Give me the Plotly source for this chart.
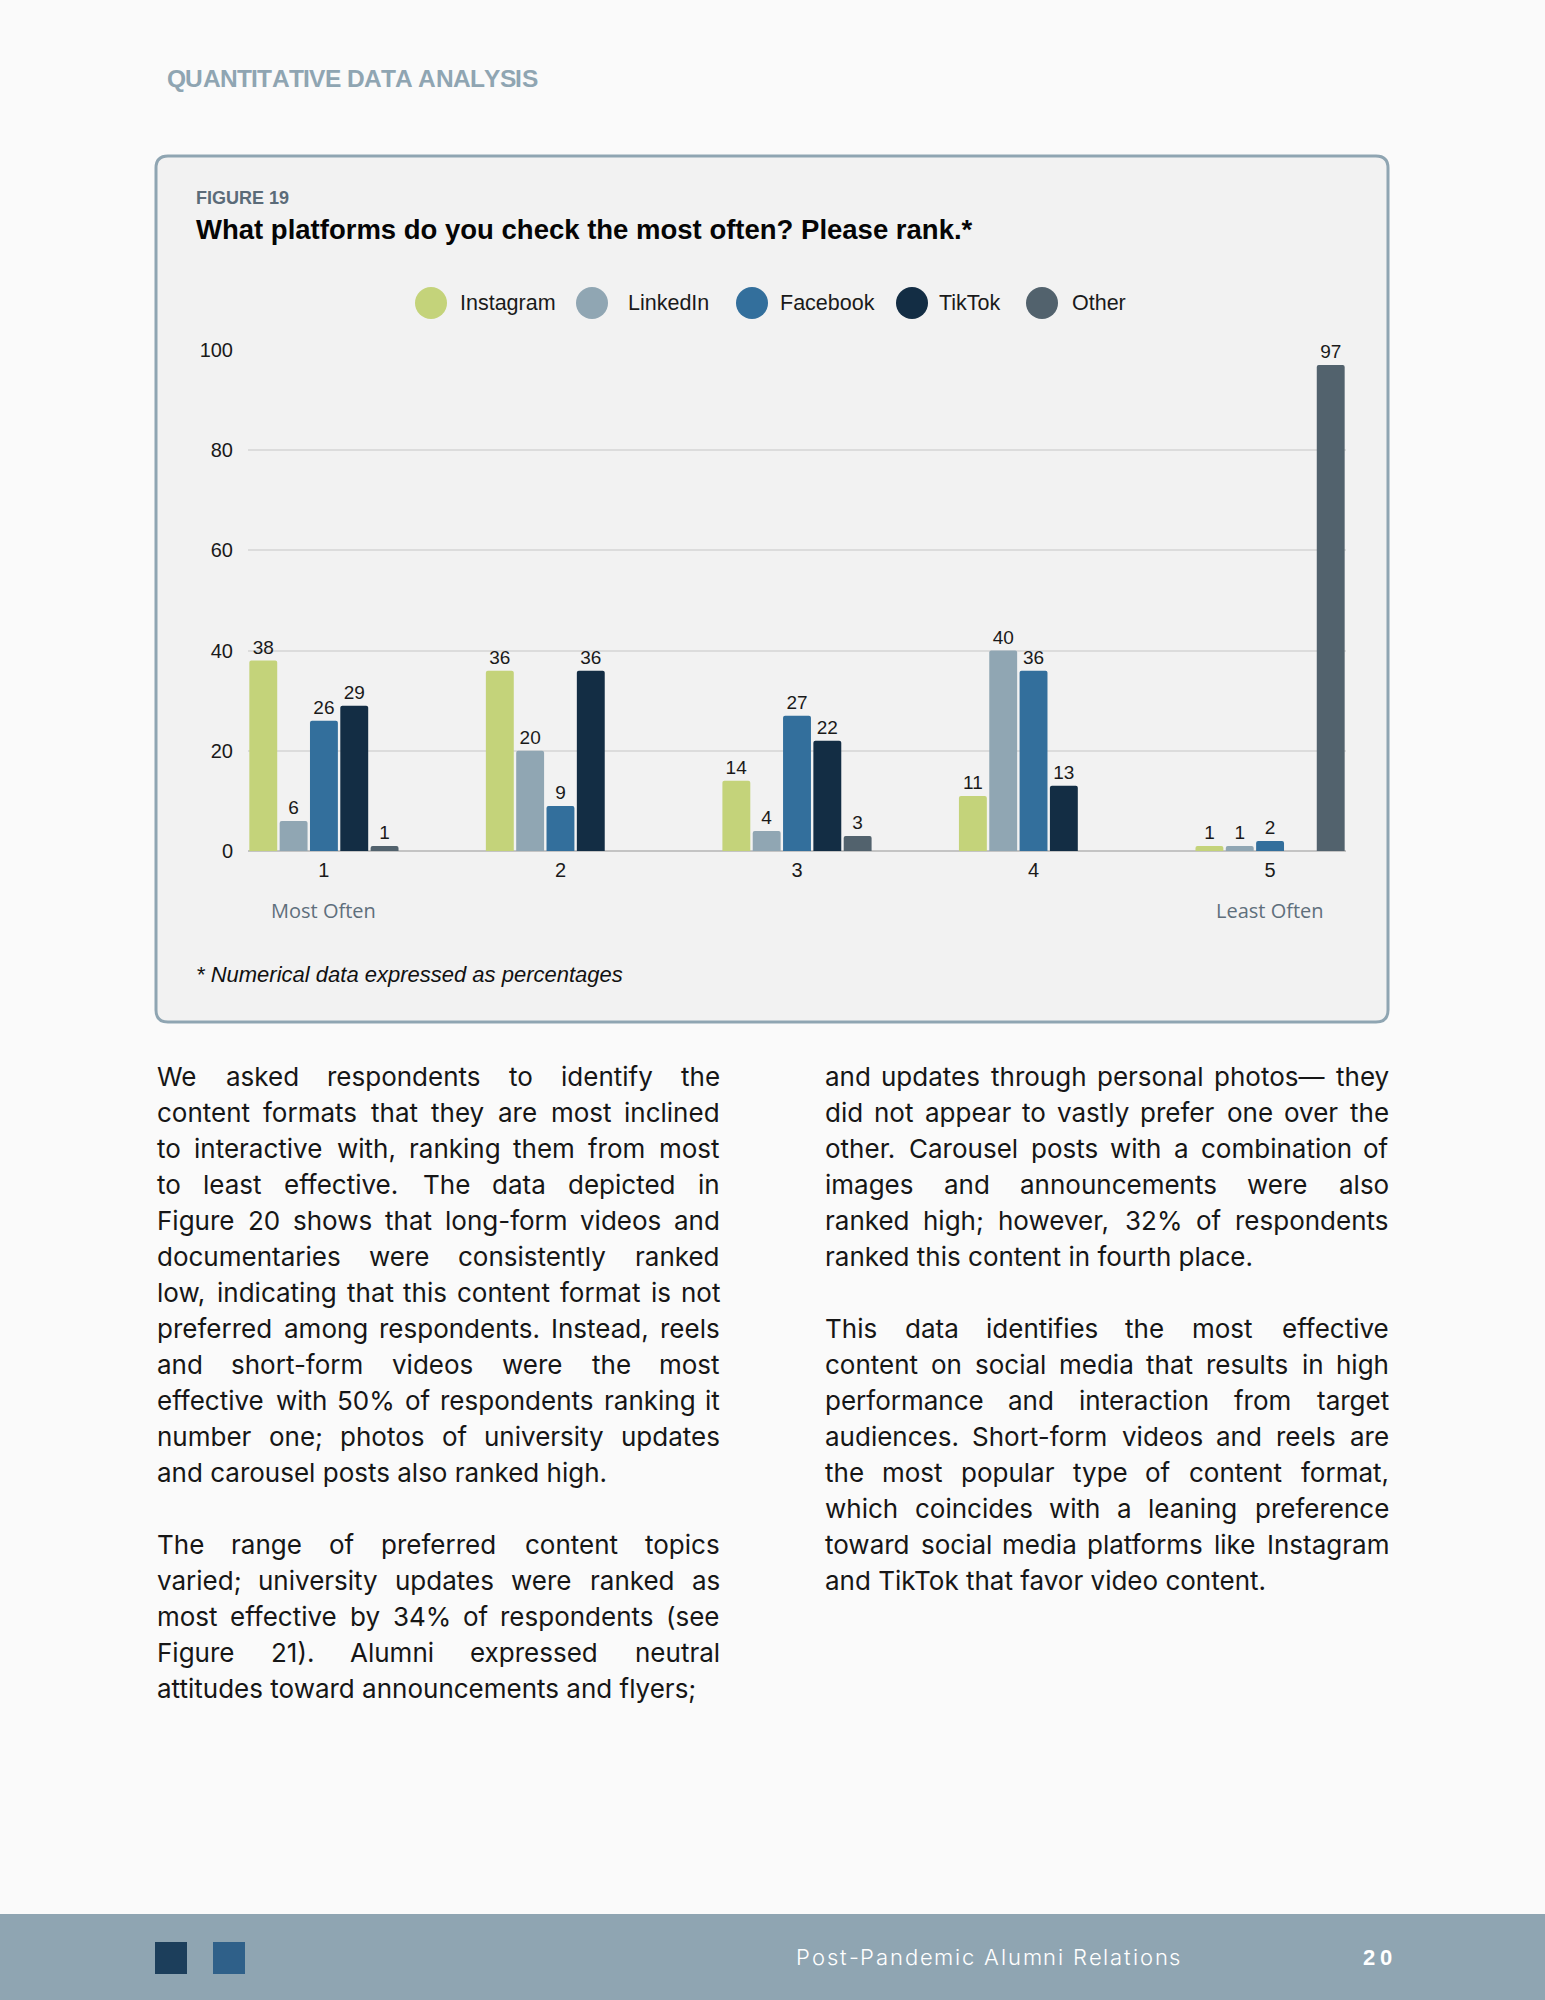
import glob
import os
import re
import struct

import plotly.graph_objects as go

# ---------------------------------------------------------------- data
RANKS = [1, 2, 3, 4, 5]
RANK_LABELS = ["1", "2", "3", "4", "5"]
SERIES = ["Instagram", "LinkedIn", "Facebook", "TikTok", "Other"]
INSTAGRAM = [38, 36, 14, 11, 1]
LINKEDIN = [6, 20, 4, 40, 1]
FACEBOOK = [26, 9, 27, 36, 2]
TIKTOK = [29, 36, 22, 13, None]
OTHER = [1, None, 3, None, 97]
VALUES = [INSTAGRAM, LINKEDIN, FACEBOOK, TIKTOK, OTHER]
Y_TICKS = [0, 20, 40, 60, 80, 100]

HEADER = "QUANTITATIVE DATA ANALYSIS"
FIG_LABEL = "FIGURE 19"
TITLE = "What platforms do you check the most often? Please rank.*"
LOW_LABEL = "Most Often"
HIGH_LABEL = "Least Often"
FOOTNOTE = "* Numerical data expressed as percentages"
FOOTER_TEXT = "Post-Pandemic Alumni Relations"
PAGE_NO = "20"

LEFT_PARAS = [
    [
        "We asked respondents to identify the",
        "content formats that they are most inclined",
        "to interactive with, ranking them from most",
        "to least effective. The data depicted in",
        "Figure 20 shows that long-form videos and",
        "documentaries were consistently ranked",
        "low, indicating that this content format is not",
        "preferred among respondents. Instead, reels",
        "and short-form videos were the most",
        "effective with 50% of respondents ranking it",
        "number one; photos of university updates",
        "and carousel posts also ranked high.",
    ],
    [
        "The range of preferred content topics",
        "varied; university updates were ranked as",
        "most effective by 34% of respondents (see",
        "Figure 21). Alumni expressed neutral",
        "attitudes toward announcements and flyers;",
    ],
]
RIGHT_PARAS = [
    [
        "and updates through personal photos\u2014 they",
        "did not appear to vastly prefer one over the",
        "other. Carousel posts with a combination of",
        "images and announcements were also",
        "ranked high; however, 32% of respondents",
        "ranked this content in fourth place.",
    ],
    [
        "This data identifies the most effective",
        "content on social media that results in high",
        "performance and interaction from target",
        "audiences. Short-form videos and reels are",
        "the most popular type of content format,",
        "which coincides with a leaning preference",
        "toward social media platforms like Instagram",
        "and TikTok that favor video content.",
    ],
]

# ---------------------------------------------------------------- styles
COLORS = ["#c4d37a", "#90a6b3", "#336f9c", "#132d44", "#52626d"]
PAGE_BG = "#fafafa"
BOX_BG = "#f2f2f2"
STEEL = "#8fa5b2"
INK = "#161616"
ARIAL = "Liberation Sans, Arial, Helvetica, sans-serif"

# ---------------------------------------------------------------- font metrics
FONT_DIRS = ["/usr/share/fonts", "/usr/local/share/fonts",
             os.path.expanduser("~/.fonts"), os.path.expanduser("~/.local/share/fonts")]
ALL_FONTS = []
for _d in FONT_DIRS:
    for _ext in ("ttf", "otf", "TTF", "OTF"):
        ALL_FONTS += glob.glob(os.path.join(_d, "**", "*." + _ext), recursive=True)


def find_font(regex, exclude=r"italic|oblique"):
    c = [p for p in ALL_FONTS
         if re.search(regex, os.path.basename(p), re.I)
         and not re.search(exclude, os.path.basename(p), re.I)]
    c.sort(key=lambda p: len(os.path.basename(p)))
    return c[0] if c else None


class ApproxMetrics:
    def width(self, text, size):
        w = 0.0
        for ch in text:
            if ch == " ":
                w += 0.28
            elif ch in "il.,;:!|'":
                w += 0.25
            elif ch in "ftrj()-":
                w += 0.35
            elif ch in "mwMW\u2014%":
                w += 0.85
            elif ch.isupper():
                w += 0.68
            elif ch.isdigit():
                w += 0.56
            else:
                w += 0.55
        return w * size


class FontMetrics:
    def __init__(self, path):
        d = open(path, "rb").read()
        self.d = d
        num = struct.unpack(">H", d[4:6])[0]
        t = {}
        for i in range(num):
            r = 12 + 16 * i
            tag = d[r:r + 4].decode("latin1")
            t[tag] = struct.unpack(">I", d[r + 8:r + 12])[0]
        self.upem = struct.unpack(">H", d[t["head"] + 18:t["head"] + 20])[0]
        nhm = struct.unpack(">H", d[t["hhea"] + 34:t["hhea"] + 36])[0]
        hm = t["hmtx"]
        self.adv = [struct.unpack(">H", d[hm + 4 * i:hm + 4 * i + 2])[0] for i in range(nhm)]
        cm = t["cmap"]
        n = struct.unpack(">H", d[cm + 2:cm + 4])[0]
        self.s4 = None
        self.s12 = None
        for i in range(n):
            pid, eid, so = struct.unpack(">HHI", d[cm + 4 + 8 * i:cm + 12 + 8 * i])
            fmt = struct.unpack(">H", d[cm + so:cm + so + 2])[0]
            if fmt == 4 and self.s4 is None:
                self.s4 = cm + so
            if fmt == 12 and self.s12 is None:
                self.s12 = cm + so
        self.cache = {}

    def gid(self, ch):
        code = ord(ch)
        d = self.d
        if self.s12 is not None:
            p = self.s12
            ng = struct.unpack(">I", d[p + 12:p + 16])[0]
            for i in range(ng):
                s, e, g = struct.unpack(">III", d[p + 16 + 12 * i:p + 28 + 12 * i])
                if s <= code <= e:
                    return g + code - s
            return 0
        p = self.s4
        segx2 = struct.unpack(">H", d[p + 6:p + 8])[0]
        ends = p + 14
        starts = ends + segx2 + 2
        deltas = starts + segx2
        ros = deltas + segx2
        for i in range(segx2 // 2):
            e = struct.unpack(">H", d[ends + 2 * i:ends + 2 * i + 2])[0]
            if e >= code:
                s = struct.unpack(">H", d[starts + 2 * i:starts + 2 * i + 2])[0]
                if s > code:
                    return 0
                delta = struct.unpack(">h", d[deltas + 2 * i:deltas + 2 * i + 2])[0]
                ro = struct.unpack(">H", d[ros + 2 * i:ros + 2 * i + 2])[0]
                if ro == 0:
                    return (code + delta) & 0xFFFF
                a = ros + 2 * i + ro + 2 * (code - s)
                g = struct.unpack(">H", d[a:a + 2])[0]
                return (g + delta) & 0xFFFF if g else 0
        return 0

    def width(self, text, size):
        tot = 0.0
        for ch in text:
            if ch not in self.cache:
                g = self.gid(ch)
                a = self.adv[g] if g < len(self.adv) else self.adv[-1]
                self.cache[ch] = a / self.upem
            tot += self.cache[ch]
        return tot * size


def load_metrics(regex):
    p = find_font(regex)
    if p:
        try:
            m = FontMetrics(p)
            if m.width("abc", 10) > 0:
                return m
        except Exception:
            pass
    return None


BODY_FAMILY, BODY_M = None, None
for fam, rx in [("Inter", r"^Inter(-Regular\.|\[|Variable\.|-VariableFont|\.var|\.ttf|\.otf)"),
                ("Roboto", r"^Roboto-Regular\."),
                ("Open Sans", r"^OpenSans(-Regular\.|\[|-VariableFont)"),
                ("Noto Sans", r"^NotoSans-Regular\.")]:
    m = load_metrics(rx)
    if m is not None:
        BODY_FAMILY, BODY_M = fam, m
        break
if BODY_M is None:
    BODY_FAMILY, BODY_M = "Inter", ApproxMetrics()

ARIALB_M = load_metrics(r"^LiberationSans-Bold\.") or ApproxMetrics()

# ---------------------------------------------------------------- page geometry (px)
FIG_W, FIG_H = 1545, 2000
PL, PR, PT, PB = 248, 1346, 350, 851
PW, PH = PR - PL, PB - PT


def px(x):
    return (x - PL) / PW


def py(y):
    return (PB - y) / PH


annotations = []
shapes = []


def note(x, y, text, size, color=INK, family=ARIAL, xanchor="left", weight=None, style=None):
    f = dict(family=family, size=size, color=color)
    if weight is not None:
        f["weight"] = weight
    if style is not None:
        f["style"] = style
    annotations.append(dict(xref="paper", yref="paper", x=px(x), y=py(y), text=text,
                            showarrow=False, xanchor=xanchor, yanchor="middle",
                            font=f, borderpad=0, borderwidth=0))


def tracked(text, xl, xr, y, size, metrics, color, family, weight=None):
    ws = [metrics.width(c, size) for c in text]
    t = (xr - xl - sum(ws)) / max(1, len(text) - 1)
    x = xl
    for c, w in zip(text, ws):
        if c != " ":
            note(x, y, c, size, color, family, "left", weight)
        x += w + t


def rrect(x0, y0, x1, y1, r):
    pts = [("M", x0 + r, y0), ("L", x1 - r, y0), ("Q", x1, y0, x1, y0 + r),
           ("L", x1, y1 - r), ("Q", x1, y1, x1 - r, y1), ("L", x0 + r, y1),
           ("Q", x0, y1, x0, y1 - r), ("L", x0, y0 + r), ("Q", x0, y0, x0 + r, y0)]
    out = []
    for p in pts:
        cmd, coords = p[0], p[1:]
        s = " ".join(f"{px(coords[i]):.5f},{py(coords[i + 1]):.5f}" for i in range(0, len(coords), 2))
        out.append(cmd + " " + s)
    return " ".join(out) + " Z"


# ---------------------------------------------------------------- background pieces
shapes.append(dict(type="path", xref="paper", yref="paper", path=rrect(156, 156, 1388, 1022, 12),
                   fillcolor=BOX_BG, line=dict(color=STEEL, width=3), layer="below"))
shapes.append(dict(type="rect", xref="paper", yref="paper", x0=px(-5), x1=px(FIG_W + 5),
                   y0=py(1914), y1=py(FIG_H + 5), fillcolor=STEEL, line=dict(width=0), layer="below"))
shapes.append(dict(type="rect", xref="paper", yref="paper", x0=px(155), x1=px(187),
                   y0=py(1974), y1=py(1942), fillcolor="#1c3e5b", line=dict(width=0), layer="below"))
shapes.append(dict(type="rect", xref="paper", yref="paper", x0=px(213), x1=px(245),
                   y0=py(1974), y1=py(1942), fillcolor="#2f6089", line=dict(width=0), layer="below"))

# ---------------------------------------------------------------- header & titles
tracked(HEADER, 167, 538, 78, 24.5, ARIALB_M, STEEL, ARIAL, weight="bold")
tracked(FIG_LABEL, 196, 289, 198, 18, ARIALB_M, "#5b6b79", ARIAL, weight="bold")
note(196, 229.5, f"<b>{TITLE}</b>", 27.5, "#050505")

# legend (circles + labels)
LEGEND_POS = [(431, 460), (592, 628), (752, 780), (912, 939), (1042, 1072)]
for name, col, (cx, tx) in zip(SERIES, COLORS, LEGEND_POS):
    shapes.append(dict(type="circle", xref="paper", yref="paper", x0=px(cx - 16), x1=px(cx + 16),
                       y0=py(303 + 16), y1=py(303 - 16), fillcolor=col, line=dict(width=0)))
    note(tx, 303, name, 21.5, "#1a1a1a")

# axis end labels & footnote
for xv, lab in ((RANKS[0], LOW_LABEL), (RANKS[-1], HIGH_LABEL)):
    annotations.append(dict(xref="x", yref="paper", x=xv, y=py(910), text=lab, showarrow=False,
                            xanchor="center", yanchor="middle",
                            font=dict(family="Open Sans, Noto Sans, sans-serif", size=20, color="#5f6f7c")))
note(196, 975, FOOTNOTE, 22, "#111111", ARIAL, style="italic")

# ---------------------------------------------------------------- body text (justified)
COL_L = (157, 720)
COL_R = (825, 1389)
LINE0, LINE_H = 1076.5, 36
CAL = [("and carousel posts also ranked high.", 458), ("attitudes toward announcements and flyers;", 547),
       ("ranked this content in fourth place.", 432), ("and TikTok that favor video content.", 447)]
size = sum(w / BODY_M.width(t, 1) for t, w in CAL) / len(CAL)
size = max(19.0, min(26.0, size))


def min_gap(s):
    g = 1e9
    for paras, (xl, xr) in ((LEFT_PARAS, COL_L), (RIGHT_PARAS, COL_R)):
        for para in paras:
            for line in para[:-1]:
                ws = line.split(" ")
                tot = sum(BODY_M.width(w, s) for w in ws)
                g = min(g, (xr - xl - tot) / (len(ws) - 1) / s)
    return g


while size > 18 and min_gap(size) < 0.2:
    size -= 0.25
BODY_SIZE = round(size, 2)


def place_column(paras, xl, xr):
    k = 0
    for para in paras:
        for i, line in enumerate(para):
            y = LINE0 + LINE_H * k
            words = line.split(" ")
            if i < len(para) - 1 and len(words) > 1:
                ws = [BODY_M.width(w, BODY_SIZE) for w in words]
                gap = (xr - xl - sum(ws)) / (len(words) - 1)
                x = xl
                for j, (w, wd) in enumerate(zip(words, ws)):
                    if j == len(words) - 1:
                        note(xr, y, w, BODY_SIZE, INK, BODY_FAMILY, "right")
                    else:
                        note(x, y, w, BODY_SIZE, INK, BODY_FAMILY, "left")
                    x += wd + gap
            else:
                note(xl, y, line, BODY_SIZE, INK, BODY_FAMILY, "left")
            k += 1
        k += 1


place_column(LEFT_PARAS, *COL_L)
place_column(RIGHT_PARAS, *COL_R)

# ---------------------------------------------------------------- footer text
tracked(FOOTER_TEXT, 796, 1181, 1957, 22, BODY_M, "#ffffff", BODY_FAMILY, weight=300)
tracked(PAGE_NO, 1363, 1392, 1957, 22, ARIALB_M, "#ffffff", ARIAL, weight="bold")

# ---------------------------------------------------------------- chart
fig = go.Figure()
for name, vals, col in zip(SERIES, VALUES, COLORS):
    fig.add_trace(go.Bar(
        x=RANKS, y=vals, name=name,
        marker=dict(color=col, cornerradius=2, line=dict(width=0)),
        text=["" if v is None else str(v) for v in vals],
        textposition="outside", textangle=0, constraintext="none", cliponaxis=False,
        textfont=dict(family=ARIAL, size=19, color="#1a1a1a"),
        showlegend=False, hovertemplate=name + " rank %{x}: %{y}%<extra></extra>",
    ))

fig.update_layout(
    width=FIG_W, height=FIG_H, autosize=False,
    margin=dict(l=PL, r=FIG_W - PR, t=PT, b=FIG_H - PB, pad=0),
    paper_bgcolor=PAGE_BG, plot_bgcolor="rgba(0,0,0,0)",
    barmode="group", bargap=0.359, bargroupgap=0.08,
    showlegend=False,
    xaxis=dict(range=[0.679, 5.321], tickmode="array", tickvals=RANKS, ticktext=RANK_LABELS,
               showgrid=False, zeroline=False, showline=False, ticks="",
               tickfont=dict(family=ARIAL, size=20, color="#1a1a1a"), ticklabelstandoff=5),
    yaxis=dict(range=[0, 100], tickmode="array", tickvals=Y_TICKS, showgrid=True,
               gridcolor="#dcdcdc", gridwidth=1.5, zeroline=True, zerolinecolor="#c4c4c4",
               zerolinewidth=2, showline=False, ticks="",
               tickfont=dict(family=ARIAL, size=20, color="#1a1a1a"), ticklabelstandoff=14),
    annotations=annotations, shapes=shapes,
)

fig.write_html("out.html", config={"displayModeBar": False},
               post_script="document.body.style.margin='0';document.body.style.background='#fafafa';")
